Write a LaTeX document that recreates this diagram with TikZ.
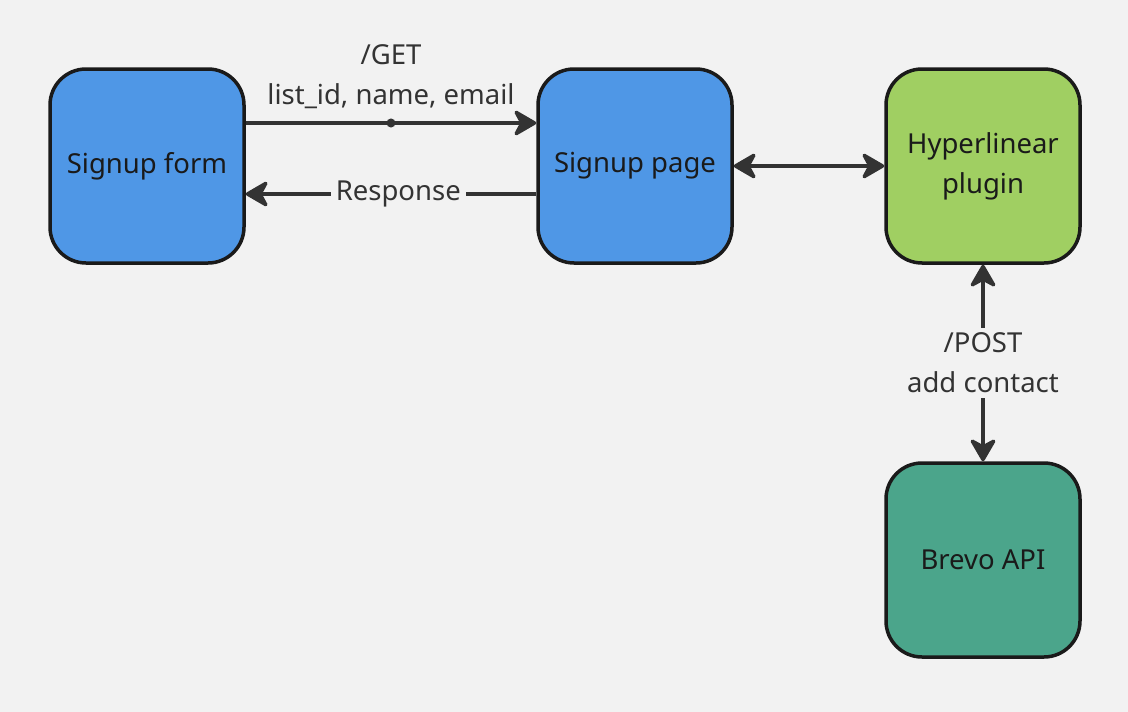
\documentclass[tikz,border=0pt]{standalone}
\usepackage{fontspec}
\setmainfont{Noto Sans}
\usetikzlibrary{arrows.meta,positioning}
\definecolor{bgcol}{HTML}{F2F2F2}
\definecolor{inkcol}{HTML}{333333}
\definecolor{edgecol}{HTML}{1A1A1A}
\definecolor{bluecol}{HTML}{4F97E6}
\definecolor{greencol}{HTML}{A0CF62}
\definecolor{tealcol}{HTML}{4BA58B}

\begin{document}
\begin{tikzpicture}[x=1pt,y=-1pt,
    font=\fontsize{27.5}{40}\selectfont,
    box/.style={draw=edgecol,line width=3.5pt,rounded corners=36pt,minimum width=194pt,minimum height=194pt,align=center,text=edgecol},
    arr/.style={-{Stealth[length=26pt,width=30pt,inset=8pt,round]},line width=3.5pt,draw=inkcol},
    arrboth/.style={{Stealth[length=26pt,width=30pt,inset=8pt,round]}-{Stealth[length=26pt,width=30pt,inset=8pt,round]},line width=3.5pt,draw=inkcol},
    lbl/.style={text=inkcol,align=center,fill=bgcol,inner sep=5pt}]
    \fill[bgcol] (0,0) rectangle (1128,712);
    \node[box,fill=bluecol] (form) at (147,166) {Signup form};
    \node[box,fill=bluecol] (page) at (635,166) {Signup page};
    \node[box,fill=greencol] (plugin) at (983,166) {Hyperlinear\\plugin};
    \node[box,fill=tealcol] (brevo) at (983,560) {Brevo API};
    % signup form to page
    \draw[arr] ([yshift=43pt]form.east) -- node[circle,fill=inkcol,inner sep=3.2pt] (dot) {} ([yshift=43pt]page.west);
    \node[text=inkcol,align=center,above=4pt of dot] (get) {/GET\\list\_id, name, email};
    \draw[arr] ([yshift=-28pt]page.west) -- node[lbl,pos=0.475] (resp) {Response} ([yshift=-28pt]form.east);
    % page and plugin
    \draw[arrboth] (page.east) -- (plugin.west);
    % plugin and brevo
    \draw[arrboth] (plugin.south) -- node[lbl] (post) {/POST\\add contact} (brevo.north);
\end{tikzpicture}
\end{document}
